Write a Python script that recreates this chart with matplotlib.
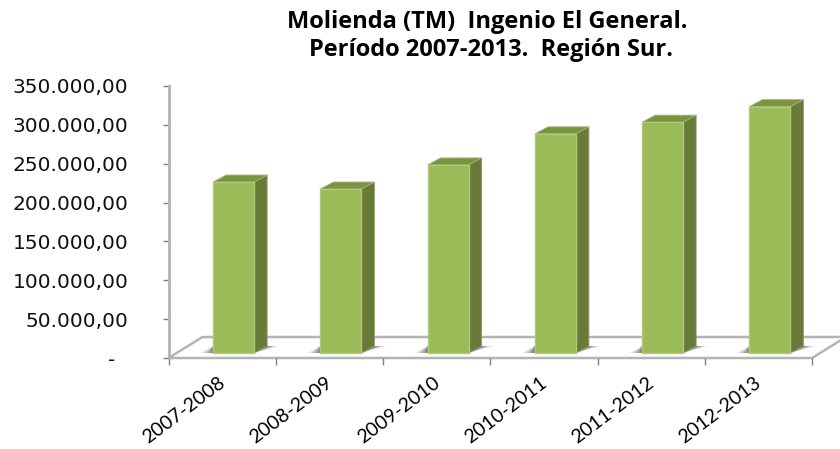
import numpy as np
import matplotlib
matplotlib.use('Agg')
import matplotlib.pyplot as plt
from matplotlib.patches import Polygon

periodos = ['2007-2008', '2008-2009', '2009-2010', '2010-2011', '2011-2012', '2012-2013']
molienda = [220000, 211000, 242000, 282000, 297000, 317000]
y_ticks = [0, 50000, 100000, 150000, 200000, 250000, 300000, 350000]
y_labels = ['-  ', '50.000,00', '100.000,00', '150.000,00', '200.000,00',
            '250.000,00', '300.000,00', '350.000,00']

W, H = 840, 449
fig = plt.figure(figsize=(W / 100, H / 100), dpi=100)
ax = fig.add_axes([168.5 / W, (H - 358) / H, (812 - 168.5) / W, (358 - 86) / H])
ax.set_xlim(-0.5, 5.5)
ax.set_ylim(0, 350000)

# pixel sizes turned into data units
px_x = 6 / (812 - 168.5)
px_y = 350000 / (358 - 86)

# floor of the 3d box
floor_dx = 34 * px_x
floor_dy = 21 * px_y
grey = '#b4b4b4'
ax.add_patch(Polygon([(-0.5, 0), (5.5, 0), (5.5 + floor_dx, floor_dy), (-0.5 + floor_dx, floor_dy)],
                     closed=True, fc='white', ec=grey, lw=1.8, clip_on=False, zorder=1))

# bars
x = np.arange(len(periodos))
shift = 11.5 * px_x
base = 5 * px_y
width = 41 * px_x
dx = 13 * px_x
dy = 7 * px_y
for xi, v in zip(x, molienda):
    left = xi + shift - width / 2
    right = left + width
    top = base + v
    # shadow on the floor
    for grow, a in zip([1.0, 0.75, 0.5, 0.25], [0.12, 0.18, 0.25, 0.32]):
        ax.add_patch(Polygon([(left - 13 * grow * px_x, base), (right, base),
                              (right + dx + 12 * grow * px_x, base + dy), (left, base + dy)],
                             closed=True, fc='#444444', ec='none', alpha=a, clip_on=False, zorder=2))
    ax.add_patch(Polygon([(right, base), (right + dx, base + dy), (right + dx, top + dy), (right, top)],
                         closed=True, fc='#677a38', ec='#8a9a66', lw=0.6, clip_on=False, zorder=3))
    ax.add_patch(Polygon([(left, top), (right, top), (right + dx, top + dy), (left + dx, top + dy)],
                         closed=True, fc='#7b9440', ec='#a3b47c', lw=0.6, clip_on=False, zorder=3))
ax.bar(x + shift, molienda, width=width, bottom=base, color='#9bbb59', edgecolor='#b0ca7c',
       linewidth=1.0, zorder=4)

for s in ['top', 'right', 'bottom']:
    ax.spines[s].set_visible(False)
ax.spines['left'].set_color(grey)
ax.spines['left'].set_linewidth(2)

ax.set_yticks(y_ticks)
ax.set_yticklabels(y_labels, fontsize=14.5, family='DejaVu Sans', color='#111111')
ax.tick_params(axis='y', color='#808080', length=4, width=1, pad=25)

ax.set_xticks(np.arange(-0.5, 6, 1))
ax.set_xticklabels([])
ax.tick_params(axis='x', color='#808080', length=5, width=1)
for xi, name in zip(x, periodos):
    ax.annotate(name, (xi, 0), xytext=(-27.4, -37.5), textcoords='offset points', rotation=37,
                ha='center', va='center', rotation_mode='anchor', fontsize=14, family='Lato',
                color='black', annotation_clip=False)

fig.text(487.5 / W, 1 - 22 / H, 'Molienda (TM)  Ingenio El General.', ha='center', va='center',
         fontsize=17, fontweight='bold', family='Open Sans')
fig.text(491 / W, 1 - 50 / H, 'Período 2007-2013.  Región Sur.', ha='center', va='center',
         fontsize=17, fontweight='bold', family='Open Sans')

fig.savefig('out.png', dpi=100)
